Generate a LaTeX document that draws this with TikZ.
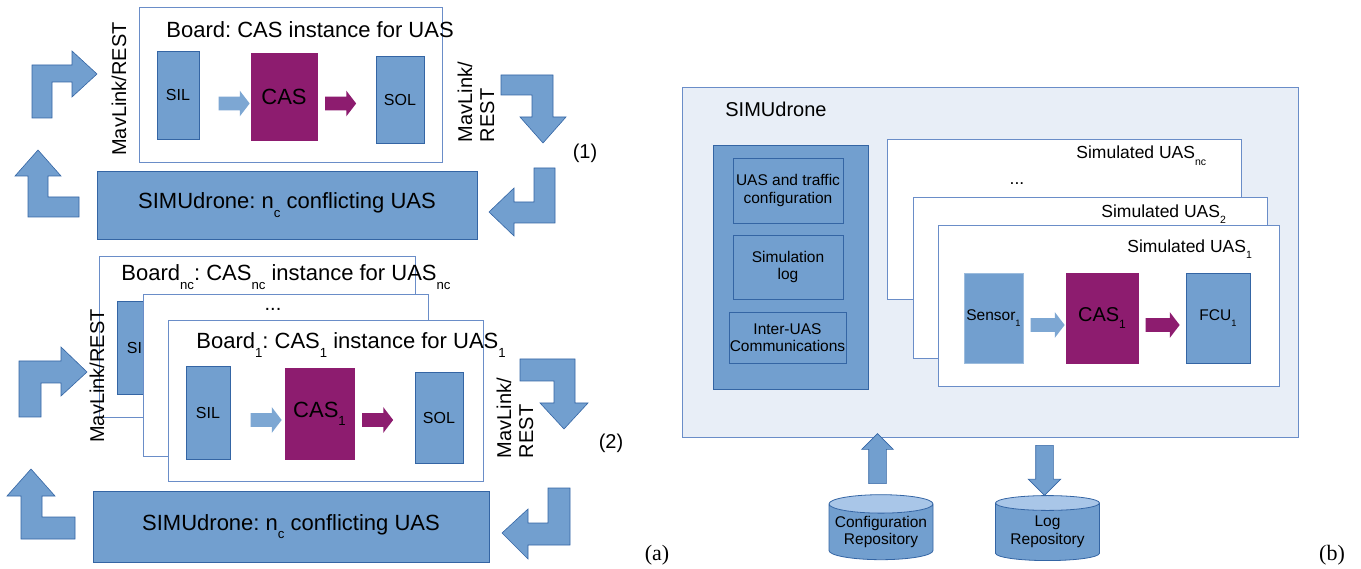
\documentclass[tikz,border=0pt]{standalone}
\usepackage{fontspec}
\setmainfont{Liberation Sans}
\newfontfamily\capfont{Liberation Serif}
\frenchspacing
\usetikzlibrary{shapes.geometric, shapes.arrows}
\definecolor{cblue}{HTML}{729FCF}
\definecolor{cline}{HTML}{3465A4}
\definecolor{cframe}{HTML}{6A8DC8}
\definecolor{cpurple}{HTML}{8D1C6F}
\definecolor{cpale}{HTML}{E8EEF7}
\definecolor{ctop}{HTML}{A9C6E8}
\newcommand{\subidx}[1]{\raisebox{-0.38em}{\scalebox{0.6}{#1}}}
\tikzset{
  every picture/.style={line width=0.8pt},
  blk/.style={draw=cline, fill=cblue, inner sep=0pt, font=\fontsize{16}{18}\selectfont},
  cas/.style={draw=cpurple, fill=cpurple, inner sep=0pt, font=\fontsize{22}{24}\selectfont},
  board/.style={draw=cframe, fill=white, inner sep=0pt},
  title/.style={anchor=west, inner sep=0pt, font=\fontsize{22}{24}\selectfont},
  blockarr/.style={single arrow, draw=none, fill=#1, minimum height=31pt, inner xsep=0pt, inner ysep=6.5pt,
    single arrow head extend=6pt, single arrow tip angle=105},
  blockarr/.default=cblue!92!white,
  bent/.style={fill=cblue, draw=cline, line width=0.6pt},
  proto/.style={rotate=90, align=left, inner sep=0pt, font=\fontsize{20}{22}\selectfont},
  note/.style={inner sep=0pt, font=\fontsize{20}{22}\selectfont},
  repo/.style={cylinder, shape border rotate=90, aspect=0.2, draw=cline, cylinder uses custom fill,
    cylinder body fill=cblue, cylinder end fill=ctop, minimum width=104pt, minimum height=65pt,
    align=center, inner sep=0pt, font=\fontsize{15.5}{17.5}\selectfont},
}

\begin{document}
\begin{tikzpicture}[x=1pt, y=-1pt]
  \useasboundingbox (0,0) rectangle (1361,569);
  % (a) top: one board
  \node[board, minimum width=303, minimum height=155] (board) at (290.5,84.5) {};
  \node[title] (boardt) at (166,30) {Board: CAS instance for UAS};
  \node[blk, minimum width=42, minimum height=88] (sil) at (178,95) {SIL};
  \node[cas, minimum width=66, minimum height=87] (cas) at (284,96.5) {CAS};
  \node[blk, minimum width=48, minimum height=87] (sol) at (400,99.5) {SOL};
  \node[blockarr] (silcas) at (231.5,103.5) {};
  \node[blockarr=cpurple] (cassol) at (338,103.5) {};
  \node[proto] (link) at (119,89) {MavLink/REST};
  \node[blk, minimum width=380, minimum height=68, font=\fontsize{22}{24}\selectfont] (sim)
    at (287,205) {SIMUdrone: n\subidx{c} conflicting UAS};
  \draw[bent] (32,118) -- (32,65) -- (72,65) -- (72,51) -- (97,74) -- (72,97) -- (72,82) -- (52,82) -- (52,118) -- cycle;
  \draw[bent] (79,217) -- (28,217) -- (28,176) -- (15,176) -- (38,150) -- (61,176) -- (48,176) -- (48,197) -- (79,197) -- cycle;
  \node[proto] (linkout) at (476,102) {MavLink/\\REST};
  \draw[bent] (501,75) -- (553,75) -- (553,117) -- (566,117) -- (543,143) -- (520,117) -- (532,117) -- (532,95) -- (501,95) -- cycle;
  \node[note] (one) at (585,153) {(1)};
  \draw[bent] (534,168) -- (555,168) -- (555,223) -- (514,223) -- (514,236) -- (489,212) -- (514,188) -- (514,202) -- (534,202) -- cycle;

  % (a) bottom: stacked boards
  \node[board, minimum width=316, minimum height=161] (boardnc) at (257,336.5) {};
  \node[title] (boardnct) at (121,277) {Board\subidx{nc}: CAS\subidx{nc} instance for UAS\subidx{nc}};
  \node[blk, minimum width=44, minimum height=93] (silnc) at (139,347.5) {SIL};
  \node[board, minimum width=285, minimum height=162] (boardk) at (285.5,375) {};
  \node[inner sep=0pt, font=\fontsize{20}{22}\selectfont] (dotsa) at (273,309) {...};
  \node[board, minimum width=315, minimum height=161] (boardone) at (325.5,400.5) {};
  \node[title] (boardonet) at (196,345) {Board\subidx{1}: CAS\subidx{1} instance for UAS\subidx{1}};
  \node[blk, minimum width=44, minimum height=93] (silone) at (208,412.5) {SIL};
  \node[cas, minimum width=69, minimum height=91] (casone) at (319.5,413.5) {CAS\subidx{1}};
  \node[blk, minimum width=48, minimum height=91] (solone) at (439,417.5) {SOL};
  \node[blockarr] (silcasone) at (263.5,420) {};
  \node[blockarr=cpurple] (cassolone) at (375,420) {};
  \node[proto] (linktwo) at (97,376) {MavLink/REST};
  \node[blk, minimum width=396, minimum height=71, font=\fontsize{22}{24}\selectfont] (simtwo)
    at (291,526.5) {SIMUdrone: n\subidx{c} conflicting UAS};
  \draw[bent] (19,417) -- (19,361) -- (61,361) -- (61,347) -- (87,372) -- (61,396) -- (61,383) -- (41,383) -- (41,417) -- cycle;
  \draw[bent] (75,539) -- (21,539) -- (21,496) -- (7,496) -- (31,469) -- (55,496) -- (42,496) -- (42,517) -- (75,517) -- cycle;
  \node[proto] (linkouttwo) at (515,418) {MavLink/\\REST};
  \draw[bent] (520,359) -- (575,359) -- (575,403) -- (588,403) -- (564,429) -- (540,403) -- (554,403) -- (554,381) -- (520,381) -- cycle;
  \node[note] (two) at (611,443) {(2)};
  \draw[bent] (548,488) -- (570,488) -- (570,545) -- (528,545) -- (528,559) -- (502,533) -- (528,509) -- (528,523) -- (548,523) -- cycle;
  \node[inner sep=0pt, font=\capfont\fontsize{22}{24}\selectfont] (capa) at (657,555) {(a)};

  % (b) SIMUdrone internals
  \node[draw=cframe, fill=cpale, inner sep=0pt, minimum width=616, minimum height=350] (simb) at (990,262) {};
  \node[anchor=west, inner sep=0pt, font=\fontsize{20}{22}\selectfont] (simbt) at (725,109) {SIMUdrone};
  \node[blk, minimum width=155, minimum height=244] (panel) at (790.5,267) {};
  \node[blk, align=center, font=\fontsize{15.5}{17.5}\selectfont, minimum width=110, minimum height=65] (cfg)
    at (788,190.5) {UAS and traffic\\configuration};
  \node[blk, align=center, font=\fontsize{15.5}{17.5}\selectfont, minimum width=110, minimum height=64] (log)
    at (788,267) {Simulation\\log};
  \node[blk, align=center, font=\fontsize{15.5}{17.5}\selectfont, minimum width=117, minimum height=51] (comm)
    at (787.5,337.5) {Inter-UAS\\Communications};
  \node[board, minimum width=354, minimum height=160] (uasnc) at (1064,219) {};
  \node[anchor=west, inner sep=0pt, font=\fontsize{17.5}{19}\selectfont] (uasnct) at (1076,156) {Simulated UAS\subidx{nc}};
  \node[inner sep=0pt, font=\fontsize{17.5}{19}\selectfont] (dotsb) at (1017,184) {...};
  \node[board, minimum width=354, minimum height=161] (uastwo) at (1090,277.5) {};
  \node[anchor=west, inner sep=0pt, font=\fontsize{17.5}{19}\selectfont] (uastwot) at (1101,214) {Simulated UAS\subidx{2}};
  \node[board, minimum width=341, minimum height=161] (uasone) at (1108.5,305.5) {};
  \node[anchor=west, inner sep=0pt, font=\fontsize{17.5}{19}\selectfont] (uasonet) at (1127,249) {Simulated UAS\subidx{1}};
  \node[blk, draw=cblue!70!white, font=\fontsize{15.5}{17.5}\selectfont, minimum width=59, minimum height=90] (sensor)
    at (993.5,318) {Sensor\subidx{1}};
  \node[cas, font=\fontsize{20}{22}\selectfont, minimum width=72, minimum height=90] (casb) at (1102,318) {CAS\subidx{1}};
  \node[blk, font=\fontsize{15.5}{17.5}\selectfont, minimum width=64, minimum height=90] (fcu) at (1218,318) {FCU\subidx{1}};
  \node[blockarr, minimum height=34] (sensorcas) at (1045,325) {};
  \node[blockarr=cpurple, minimum height=34] (casfcu) at (1160,325) {};
  \node[repo] (cfgrepo) at (881,532) {Configuration\\Repository};
  \node[repo] (logrepo) at (1047.5,532) {Log\\Repository};
  \node[blockarr=cblue, draw=cline, line width=0.6pt, rotate=90, minimum height=50, inner ysep=8.5pt,
    single arrow head extend=7pt, single arrow tip angle=90] (cfgin) at (877.5,463) {};
  \node[blockarr=cblue, draw=cline, line width=0.6pt, rotate=-90, minimum height=50, inner ysep=8.5pt,
    single arrow head extend=7.5pt, single arrow tip angle=90] (logout) at (1044.5,466) {};
  \node[inner sep=0pt, font=\capfont\fontsize{22}{24}\selectfont] (capb) at (1332,555) {(b)};
\end{tikzpicture}
\end{document}
